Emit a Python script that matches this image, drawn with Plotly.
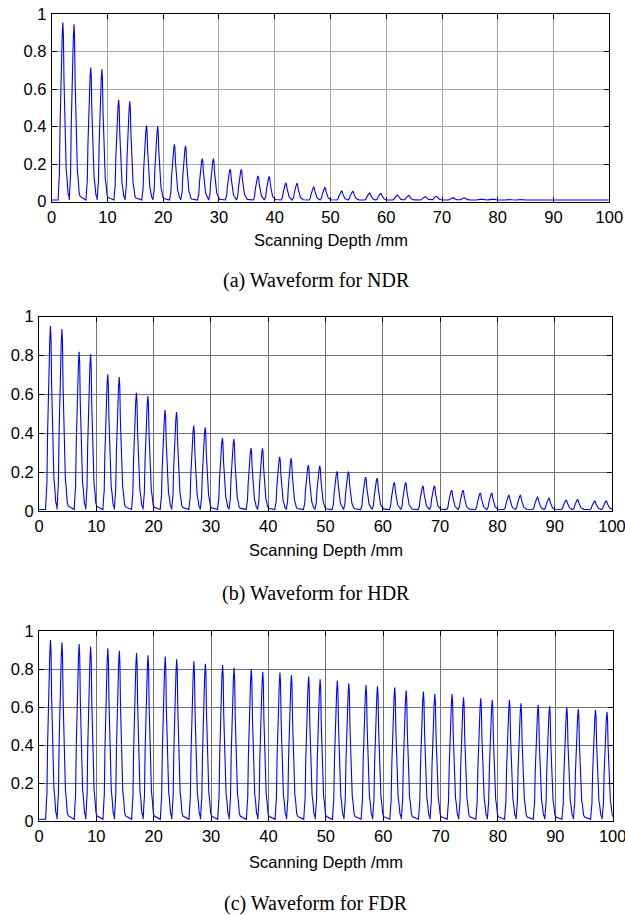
from __future__ import annotations

import plotly.graph_objects as go

# Peak positions along the scanning depth (mm)
PEAK_POS = [2, 4, 7, 9, 12, 14, 17, 19, 22, 24,
            27, 29, 32, 34, 37, 39, 42, 44, 47, 49,
            52, 54, 57, 59, 62, 64, 67, 69, 72, 74,
            77, 79, 82, 84, 87, 89, 92, 94, 97, 99]

# Peak amplitudes for each waveform
NDR_PEAKS = [0.955, 0.945, 0.715, 0.705, 0.543, 0.535, 0.405, 0.400, 0.305, 0.298,
             0.230, 0.229, 0.174, 0.172, 0.137, 0.134, 0.100, 0.098, 0.078, 0.075,
             0.057, 0.055, 0.046, 0.044, 0.036, 0.034, 0.027, 0.029, 0.021, 0.021,
             0.016, 0.016, 0.014, 0.012, 0.009, 0.009, 0.008, 0.008, 0.008, 0.008]

HDR_PEAKS = [0.952, 0.936, 0.820, 0.808, 0.704, 0.690, 0.609, 0.592, 0.520, 0.510,
             0.440, 0.432, 0.376, 0.371, 0.325, 0.324, 0.280, 0.272, 0.238, 0.233,
             0.205, 0.204, 0.176, 0.170, 0.149, 0.149, 0.130, 0.130, 0.108, 0.108,
             0.094, 0.094, 0.082, 0.082, 0.072, 0.067, 0.058, 0.060, 0.053, 0.053]

FDR_PEAKS = [0.953, 0.939, 0.932, 0.917, 0.909, 0.896, 0.884, 0.872, 0.865, 0.851,
             0.840, 0.828, 0.821, 0.807, 0.800, 0.786, 0.782, 0.767, 0.760, 0.746,
             0.739, 0.725, 0.716, 0.709, 0.702, 0.687, 0.682, 0.668, 0.668, 0.651,
             0.646, 0.637, 0.637, 0.619, 0.611, 0.605, 0.598, 0.589, 0.584, 0.575]

# Shape of a single echo pulse (offset in mm, fraction of peak)
PULSE_OFFSET = [-0.85, -0.7, -0.62, -0.5, -0.38, -0.25, -0.12, 0.0,
                0.1, 0.2, 0.3, 0.45, 0.6, 0.75, 0.92, 1.1]
PULSE_FRAC = [0.0, 0.1, 0.14, 0.42, 0.62, 0.84, 0.92, 1.0,
              0.93, 0.68, 0.5, 0.35, 0.17, 0.12, 0.04, 0.02]
BASE_LEVEL = 0.009

X_TICKS = [0, 10, 20, 30, 40, 50, 60, 70, 80, 90, 100]
Y_TICKS = [0, 0.2, 0.4, 0.6, 0.8, 1]
Y_TICK_TEXT = ["0", "0.2", "0.4", "0.6", "0.8", "1"]

AXIS_TITLE = "Scanning Depth /mm"
CAPTIONS = ["(a) Waveform for NDR", "(b) Waveform for HDR", "(c) Waveform for FDR"]

W, H = 625, 915
COR_LINHA = "#0000FF"
COR_EIXO = "black"
FONTE_EIXO = "Liberation Sans, Arial"
FONTE_LEGENDA = "Liberation Serif, Times New Roman"

# panel boxes in pixels: left, right, top, bottom
PANELS = [
    (51.7, 609.3, 14.0, 201.7),
    (39.0, 612.0, 316.7, 511.3),
    (39.0, 612.7, 631.0, 821.0),
]
GRID_COLORS = ["#a6a6a6", "#707070", "#707070"]
TITLE_Y = [240, 550, 862]
CAPTION_Y = [280, 593, 903]


def waveform(peaks):
    xs = [0.0]
    ys = [BASE_LEVEL]
    for p, h in zip(PEAK_POS, peaks):
        for off, fr in zip(PULSE_OFFSET, PULSE_FRAC):
            xs.append(p + off)
            ys.append(BASE_LEVEL + fr * (h - BASE_LEVEL))
    xs.append(101.0)
    ys.append(BASE_LEVEL)
    return xs, ys


def construir_figura() -> go.Figure:
    fig = go.Figure()
    layout = {}
    annotations = []

    for i, peaks in enumerate([NDR_PEAKS, HDR_PEAKS, FDR_PEAKS]):
        n = "" if i == 0 else str(i + 1)
        l, r, t, b = PANELS[i]
        xs, ys = waveform(peaks)
        fig.add_trace(
            go.Scatter(
                x=xs, y=ys, mode="lines",
                line=dict(color=COR_LINHA, width=1.1),
                xaxis="x" + n, yaxis="y" + n,
                showlegend=False,
                hoverinfo="skip",
            )
        )
        common = dict(
            showline=True, linecolor=COR_EIXO, linewidth=1,
            mirror="ticks", ticks="inside", ticklen=5, tickcolor=COR_EIXO,
            showgrid=True, gridcolor=GRID_COLORS[i], gridwidth=1,
            zeroline=False, automargin=False, ticklabeloverflow="allow",
            tickfont=dict(family=FONTE_EIXO, size=16.5, color="black"),
        )
        layout["xaxis" + n] = dict(
            domain=[l / W, r / W], anchor="y" + n,
            range=[0, 100], tickmode="array", tickvals=X_TICKS,
            ticklabelstandoff=0,
            **common,
        )
        layout["yaxis" + n] = dict(
            domain=[1 - b / H, 1 - t / H], anchor="x" + n,
            range=[0, 1], tickmode="array", tickvals=Y_TICKS, ticktext=Y_TICK_TEXT,
            ticklabelstandoff=1,
            **common,
        )
        annotations.append(dict(
            text=AXIS_TITLE, xref="paper", yref="paper",
            x=(l + r) / 2 / W, y=1 - TITLE_Y[i] / H,
            xanchor="center", yanchor="middle", showarrow=False,
            font=dict(family=FONTE_EIXO, size=16.5, color="black"),
        ))
        annotations.append(dict(
            text=CAPTIONS[i], xref="paper", yref="paper",
            x=316 / W, y=1 - CAPTION_Y[i] / H,
            xanchor="center", yanchor="middle", showarrow=False,
            font=dict(family=FONTE_LEGENDA, size=20, color="black"),
        ))

    fig.update_layout(
        width=W, height=H,
        margin=dict(l=0, r=0, t=0, b=0),
        paper_bgcolor="white", plot_bgcolor="white",
        annotations=annotations,
        **layout,
    )
    return fig


def main() -> None:
    fig = construir_figura()
    fig.write_html(
        "out.html",
        config={"displayModeBar": False, "staticPlot": True},
        post_script="document.body.style.margin='0';document.body.style.overflow='hidden';",
    )


if __name__ == "__main__":
    main()
